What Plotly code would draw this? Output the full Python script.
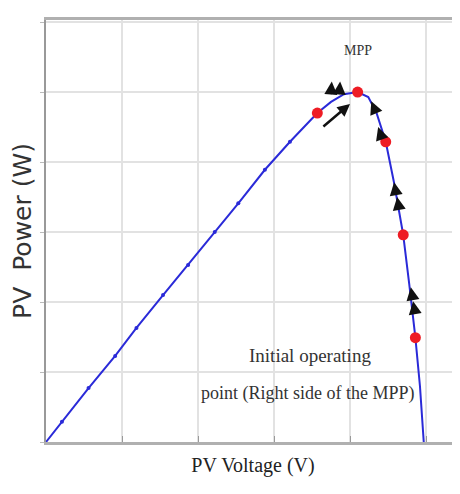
import plotly.graph_objects as go

# PV curve
voltage = [0, 0.21, 0.56, 0.91, 1.19, 1.54, 1.87, 2.22, 2.53, 2.88, 3.21, 3.57,
           3.75, 3.92, 4.10, 4.24, 4.35, 4.47, 4.58, 4.70, 4.78, 4.86, 4.92, 4.97]
power = [0, 0.29, 0.77, 1.23, 1.63, 2.10, 2.53, 3.00, 3.41, 3.89, 4.29, 4.70,
         4.86, 4.97, 5.00, 4.93, 4.70, 4.29, 3.70, 2.96, 2.25, 1.49, 0.80, 0]

# sample markers on the linear part
sample_v = voltage[1:11]
sample_p = power[1:11]

# operating points (red)
op_v = [3.57, 4.10, 4.47, 4.70, 4.86]
op_p = [4.70, 5.00, 4.29, 2.96, 1.49]

# arrowheads along the curve: head (v, p) and tail offset in pixels
arrow_v = [4.28, 4.37, 4.58, 4.62, 4.80, 4.83, 3.76, 3.87]
arrow_p = [4.87, 4.50, 3.71, 3.50, 2.21, 2.01, 5.15, 5.15]
arrow_dx = [5, 4, 2, 2, 2, 2, -1, -1]
arrow_dy = [12, 12, 12, 12, 12, 12, 14, 14]

# curved move arrow (tail -> head)
move_tail = (3.63, 4.49)
move_head = (4.00, 4.83)

fig = go.Figure()
fig.add_trace(go.Scatter(x=voltage, y=power, mode="lines",
                         line=dict(color="#2a2ad8", width=2), hoverinfo="skip"))
fig.add_trace(go.Scatter(x=sample_v, y=sample_p, mode="markers",
                         marker=dict(color="#2a2ad8", size=4), hoverinfo="skip"))
fig.add_trace(go.Scatter(x=op_v, y=op_p, mode="markers",
                         marker=dict(color="#ee1c24", size=11), hoverinfo="skip"))

ann = []
for v, p, dx, dy in zip(arrow_v, arrow_p, arrow_dx, arrow_dy):
    ann.append(dict(x=v, y=p, ax=dx, ay=dy, xref="x", yref="y", text="",
                    showarrow=True, arrowhead=2, arrowsize=1.3, arrowwidth=2,
                    arrowcolor="#111"))
ann.append(dict(x=move_head[0], y=move_head[1], ax=move_tail[0], ay=move_tail[1],
                axref="x", ayref="y", xref="x", yref="y", text="", showarrow=True,
                arrowhead=2, arrowsize=1.0, arrowwidth=2.5, arrowcolor="#111"))
serif = "Liberation Serif"
ann.append(dict(x=4.1, y=5.6, text="MPP", showarrow=False,
                font=dict(family=serif, size=14, color="#333")))
ann.append(dict(x=3.47, y=1.24, text="Initial operating", showarrow=False,
                font=dict(family=serif, size=19, color="#333")))
ann.append(dict(x=3.45, y=0.70, text="point (Right side of the MPP)", showarrow=False,
                font=dict(family=serif, size=18, color="#333")))

# page body has an 8px margin, so the figure is sized/offset to compensate
fig.update_layout(
    width=452, height=486,
    margin=dict(l=38, r=0, t=12, b=52, autoexpand=False),
    paper_bgcolor="white", plot_bgcolor="white",
    showlegend=False,
    annotations=ann,
    xaxis=dict(range=[0, 5.447], dtick=1, tick0=0, showticklabels=False,
               automargin=False,
               showgrid=True, gridcolor="#e2e2e2", gridwidth=2, zeroline=False,
               showline=True, linecolor="#b0b0b0", linewidth=3, mirror=True,
               ticks="inside", ticklen=6, tickcolor="#999",
               title=dict(text="PV Voltage (V)", standoff=14,
                          font=dict(family=serif, size=20, color="#222"))),
    yaxis=dict(range=[0, 6.03], dtick=1, tick0=0, showticklabels=False,
               automargin=False,
               showgrid=True, gridcolor="#e2e2e2", gridwidth=2, zeroline=False,
               showline=True, linecolor="#999", linewidth=1.5, mirror=True,
               ticks="outside", ticklen=4, tickcolor="#bbb",
               title=dict(text="PV  Power (W)", standoff=4,
                          font=dict(family="DejaVu Sans", size=25, color="#333"))),
)

fig.write_html("out.html")
